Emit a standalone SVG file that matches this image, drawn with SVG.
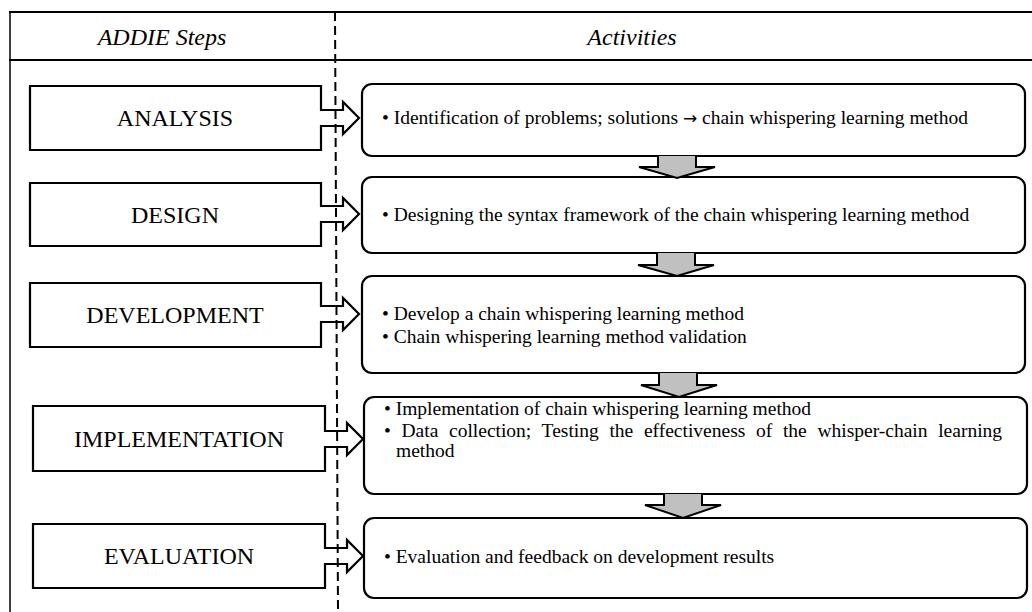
<svg xmlns="http://www.w3.org/2000/svg" width="1032" height="612" viewBox="0 0 1032 612">
<style>
.frame{stroke:#000;stroke-width:2;fill:none}
.hdr{font-family:"Liberation Serif","Times New Roman",serif;font-style:italic;font-size:24px;fill:#000;text-anchor:middle}
.step{fill:#fff;stroke:#000;stroke-width:2.2;stroke-linejoin:miter}
.lbl{font-family:"Liberation Serif","Times New Roman",serif;font-size:24px;fill:#000;text-anchor:middle}
.act{fill:#fff;stroke:#000;stroke-width:2.2}
.txt{font-family:"Liberation Serif","Times New Roman",serif;font-size:19.5px;fill:#000}
.down{fill:#c0c0c0;stroke:#000;stroke-width:2;stroke-linejoin:miter}
.dash{stroke:#000;stroke-width:2;stroke-dasharray:9 5;fill:none}
</style>
<rect x="0" y="0" width="1032" height="612" fill="#fff"/>
<g id="table">
<line class="frame" x1="9" y1="12" x2="1032" y2="12"/>
<line class="frame" x1="9" y1="60" x2="1032" y2="60"/>
<line x1="10" y1="11" x2="10" y2="612" stroke="#000" stroke-width="1.5"/>
<text class="hdr" x="162" y="45">ADDIE Steps</text>
<text class="hdr" x="632" y="45">Activities</text>
</g>
<g id="steps">
<g id="analysis">
<path class="step" d="M30,86 H321 V110 H343 V102 L359,118 L343,134 V126 H321 V150 H30 Z"/>
<text class="lbl" x="175" y="126">ANALYSIS</text>
</g>
<g id="design">
<path class="step" d="M30,183 H321 V206 H343 V198 L359,214 L343,230 V222 H321 V246 H30 Z"/>
<text class="lbl" x="175" y="223">DESIGN</text>
</g>
<g id="development">
<path class="step" d="M30,283 H321 V306 H343 V298 L359,314 L343,330 V322 H321 V347 H30 Z"/>
<text class="lbl" x="175" y="323">DEVELOPMENT</text>
</g>
<g id="implementation">
<path class="step" d="M33,406 H325 V431 H347 V423 L363,439 L347,455 V447 H325 V471 H33 Z"/>
<text class="lbl" x="179" y="447">IMPLEMENTATION</text>
</g>
<g id="evaluation">
<path class="step" d="M33,524 H325 V548 H347 V540 L363,556 L347,572 V564 H325 V588 H33 Z"/>
<text class="lbl" x="179" y="564">EVALUATION</text>
</g>
</g>
<g id="activities">
<g id="act-analysis">
<rect class="act" x="362" y="84" width="663" height="72" rx="10"/>
<text class="txt" x="382" y="124">• Identification of problems; solutions <tspan font-family="DejaVu Sans" font-size="17px">→</tspan> chain whispering learning method</text>
</g>
<g id="act-design">
<rect class="act" x="362" y="177" width="663" height="76" rx="10"/>
<text class="txt" x="382" y="221">• Designing the syntax framework of the chain whispering learning method</text>
</g>
<g id="act-development">
<rect class="act" x="362" y="276" width="663" height="97" rx="10"/>
<text class="txt" x="382" y="320">• Develop a chain whispering learning method</text>
<text class="txt" x="382" y="343">• Chain whispering learning method validation</text>
</g>
<g id="act-implementation">
<rect class="act" x="364" y="397" width="663" height="97" rx="10"/>
<text class="txt" x="384" y="415" font-size="19px">• Implementation of chain whispering learning method</text>
<text class="txt" x="384" y="437" font-size="19px" word-spacing="5.8">• Data collection; Testing the effectiveness of the whisper-chain learning</text>
<text class="txt" x="396" y="457" font-size="19px">method</text>
</g>
<g id="act-evaluation">
<rect class="act" x="364" y="518" width="663" height="80" rx="10"/>
<text class="txt" x="384" y="563" font-size="18.5px">• Evaluation and feedback on development results</text>
</g>
</g>
<g id="connectors">
<line class="dash" x1="335" y1="12" x2="338" y2="612"/>
<path class="down" d="M658,156 V167 H639 L677,178 L715,167 H696 V156"/>
<path class="down" d="M657,253 V265 H638 L677,276 L714,265 H695 V253"/>
<path class="down" d="M659,373 V385 H641 L679,397 L717,385 H697 V373"/>
<path class="down" d="M664,494 V505 H645 L683,518 L721,505 H702 V494"/>
</g>
</svg>
